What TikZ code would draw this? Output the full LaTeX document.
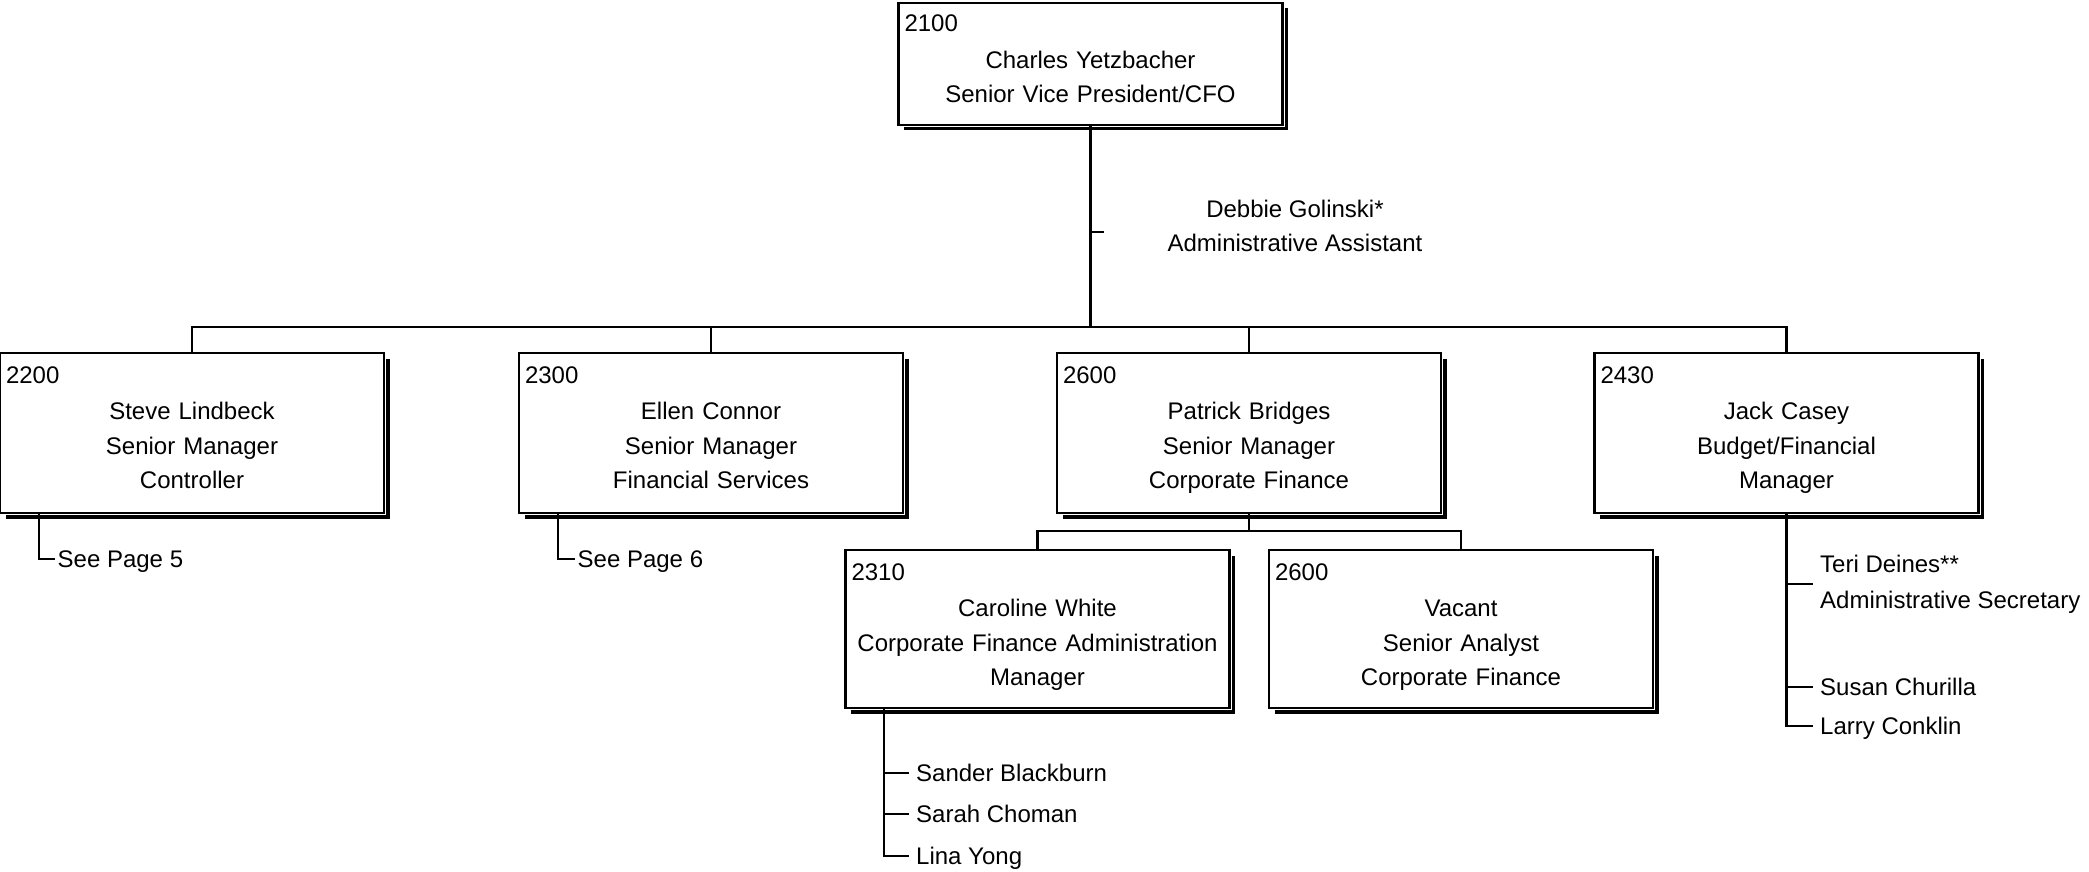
\documentclass[tikz,border=0pt]{standalone}
\usepackage{fontspec}
\setmainfont{Liberation Sans}
\newcommand{\mainsize}{\fontsize{24}{34.5}\selectfont}
\newcommand{\idsize}{\fontsize{24}{34.5}\selectfont}
\newcommand{\boxid}[1]{{\idsize #1}\hfill\null\\[2pt]}
\begin{document}
\begin{tikzpicture}[x=1pt,y=-1pt,
  conn/.style={line width=2.2pt},
  orgbox/.style={rectangle, draw=black, line width=2.2pt, fill=white,
    inner xsep=6pt, inner ysep=0pt, text width=372pt, minimum width=384pt,
    align=center, font=\mainsize,
    preaction={fill=black, transform canvas={shift={(5.5pt,-5.5pt)}}},
    preaction={draw=white, line width=4.4pt}},
  l2/.style={text height=30pt, text depth=130pt, minimum height=160pt},
  l3/.style={text height=30pt, text depth=128pt, minimum height=158pt},
  lbl/.style={font=\mainsize, inner xsep=7pt, inner ysep=0pt,
    text height=17.2pt, text depth=0pt, anchor=west},
  lbltwo/.style={font=\fontsize{24}{36}\selectfont, align=left,
    inner xsep=7pt, inner ysep=0pt, anchor=west}
  ]
\useasboundingbox (0,0) rectangle (2089,872);
\fill[white] (0,0) rectangle (2089,872);

% boxes
\node[orgbox, text height=28.7pt, text depth=93.3pt, minimum height=122pt] (cfo) at (1090.5,64)
  {\boxid{2100}Charles Yetzbacher\\Senior Vice President/CFO};
\node[orgbox,l2] (b2200) at (192,433) {\boxid{2200}Steve Lindbeck\\Senior Manager\\Controller};
\node[orgbox,l2] (b2300) at (711,433) {\boxid{2300}Ellen Connor\\Senior Manager\\Financial Services};
\node[orgbox,l2] (b2600) at (1249,433) {\boxid{2600}Patrick Bridges\\Senior Manager\\Corporate Finance};
\node[orgbox,l2] (b2430) at (1786.5,433) {\boxid{2430}Jack Casey\\Budget/Financial\\Manager};
\node[orgbox,l3] (b2310) at (1037.5,629) {\boxid{2310}Caroline White\\Corporate Finance Administration\\Manager};
\node[orgbox,l3] (bvac) at (1461,629) {\boxid{2600}Vacant\\Senior Analyst\\Corporate Finance};

% assistant
\node[font=\mainsize, align=center, inner sep=0pt] (asst) at (1295,226)
  {Debbie Golinski*\\Administrative Assistant};
\coordinate (asstTick) at (1104,232);

% text labels
\node[lbl, inner xsep=2.5pt] (see5) at (55,559) {See Page 5};
\node[lbl, inner xsep=2.5pt] (see6) at (575,559) {See Page 6};
\node[lbl] (sander) at (909,773) {Sander Blackburn};
\node[lbl] (sarah) at (909,814) {Sarah Choman};
\node[lbl] (lina) at (909,856) {Lina Yong};
\node[lbltwo] (teri) at (1813,584) {Teri Deines**\\Administrative Secretary};
\node[lbl] (susan) at (1813,687) {Susan Churilla};
\node[lbl] (larry) at (1813,726) {Larry Conklin};

% connectors
\coordinate (busY) at (0,327);
\coordinate (subY) at (0,531);
\draw[conn] (b2200.north) |- (cfo.south |- busY) -| (b2430.north);
\draw[conn] (cfo.south) -- (cfo.south |- busY);
\draw[conn] (cfo.south |- asstTick) -- (asstTick);
\draw[conn] (b2300.north) -- (b2300.north |- busY);
\draw[conn] (b2600.north) -- (b2600.north |- busY);
\draw[conn] (b2310.north) |- (b2600.south |- subY) -| (bvac.north);
\draw[conn] (b2600.south) -- (b2600.south |- subY);

\draw[conn] ([xshift=40pt]b2200.south west) |- (see5.west);
\draw[conn] ([xshift=40pt]b2300.south west) |- (see6.west);

\coordinate (cwTrunk) at ([xshift=39.5pt]b2310.south west);
\draw[conn] (cwTrunk) |- (lina.west);
\draw[conn] (cwTrunk |- sander.west) -- (sander.west);
\draw[conn] (cwTrunk |- sarah.west) -- (sarah.west);

\draw[conn] (b2430.south) |- (larry.west);
\draw[conn] (b2430.south |- susan.west) -- (susan.west);
\draw[conn] (b2430.south |- teri.west) -- (teri.west);
\end{tikzpicture}
\end{document}
